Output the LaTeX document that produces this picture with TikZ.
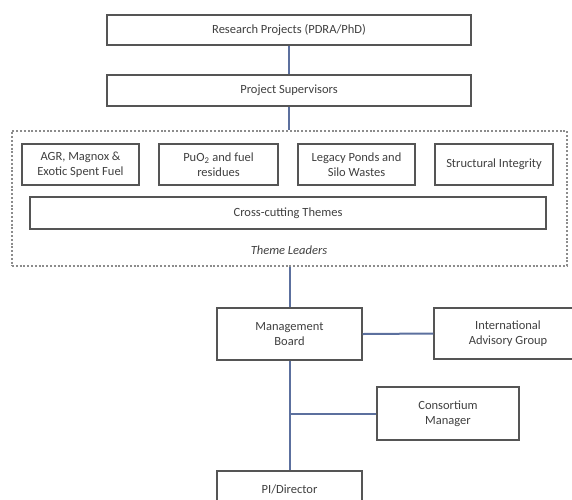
\documentclass[tikz,border=0pt]{standalone}
\usepackage{fontspec}
\setmainfont{Carlito}
\definecolor{linkblue}{RGB}{92,112,158}
\definecolor{boxgray}{RGB}{85,85,85}
\begin{document}
\begin{tikzpicture}[x=1pt,y=1pt,
  box/.style={draw=boxgray,line width=1.2pt,fill=white,inner sep=0pt,align=center,
    font=\fontsize{12.5}{15}\selectfont,text=black!75},
  link/.style={draw=linkblue,line width=2pt},
  region/.style={draw=black!45,line width=1.2pt,dash pattern=on 2pt off 1.8pt,inner sep=0pt}]
\useasboundingbox (0,0) rectangle (572,-499);
\clip (0,0) rectangle (572,-499);
% top boxes
\node[box,minimum width=364pt,minimum height=30pt] (rp) at (289,-30) {Research Projects (PDRA/PhD)};
\node[box,minimum width=364pt,minimum height=31pt] (ps) at (289,-90.5) {Project Supervisors};
% theme region
\node[region,minimum width=555pt,minimum height=135pt] (themes) at (289.5,-198.5) {};
\node[box,minimum width=117pt,minimum height=41pt] (t1) at (80.5,-164.5) {AGR, Magnox \&\\Exotic Spent Fuel};
\node[box,minimum width=119pt,minimum height=41pt] (t2) at (218.5,-164.5) {PuO\textsubscript{2} and fuel\\residues};
\node[box,minimum width=117pt,minimum height=41pt] (t3) at (356.5,-164.5) {Legacy Ponds and\\Silo Wastes};
\node[box,minimum width=118pt,minimum height=41pt] (t4) at (494,-164.5) {Structural Integrity};
\node[box,minimum width=516pt,minimum height=32pt] (cc) at (288,-213) {Cross-cutting Themes};
\node[font=\fontsize{12.5}{15}\selectfont\itshape,text=black!75] (tl) at (289,-250) {Theme Leaders};
% management
\node[box,minimum width=145pt,minimum height=52pt] (mb) at (289.5,-334) {Management\\Board};
\node[box,minimum width=148pt,minimum height=51pt] (iag) at (508,-333.5) {International\\Advisory Group};
\node[box,minimum width=142pt,minimum height=53pt] (cm) at (448,-413.5) {Consortium\\Manager};
\node[box,minimum width=145pt,minimum height=36pt] (pi) at (289.5,-489) {PI/Director};
% connectors
\draw[link] (rp.south) -- (ps.north);
\draw[link] (ps.south) -- (ps.south |- themes.north);
\draw[link] (mb.north |- themes.south) -- (mb.north);
\draw[link] (mb.east) -- (iag.west);
\draw[link] (mb.south) -- (pi.north);
\coordinate (j) at (mb.south |- cm.west);
\draw[link] (j) -- (cm.west);
\end{tikzpicture}
\end{document}
